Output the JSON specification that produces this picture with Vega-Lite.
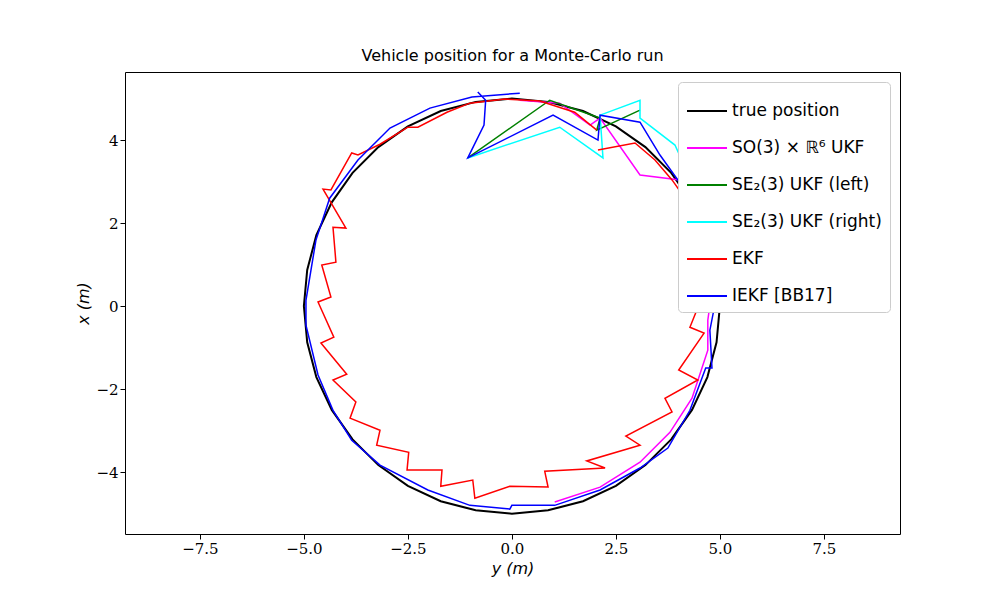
{
  "$schema": "https://vega.github.io/schema/vega-lite/v6.json",
  "width": 775,
  "height": 462,
  "autosize": "none",
  "padding": {"left": 125, "top": 72, "right": 100, "bottom": 66},
  "background": "white",
  "config": {"font": "DejaVu Sans", "view": {"stroke": "black", "strokeWidth": 1}},
  "title": {"text": "Vehicle position for a Monte-Carlo run", "fontSize": 16, "fontWeight": "normal", "offset": 8},
  "datasets": {
    "truth": [
      {"i":0,"h":5,"v":0},{"i":1,"h":4.92,"v":0.87},{"i":2,"h":4.7,"v":1.71},{"i":3,"h":4.33,"v":2.5},
      {"i":4,"h":3.83,"v":3.21},{"i":5,"h":3.21,"v":3.83},{"i":6,"h":2.5,"v":4.33},{"i":7,"h":1.71,"v":4.7},
      {"i":8,"h":0.87,"v":4.92},{"i":9,"h":0,"v":5},{"i":10,"h":-0.87,"v":4.92},{"i":11,"h":-1.71,"v":4.7},
      {"i":12,"h":-2.5,"v":4.33},{"i":13,"h":-3.21,"v":3.83},{"i":14,"h":-3.83,"v":3.21},{"i":15,"h":-4.33,"v":2.5},
      {"i":16,"h":-4.7,"v":1.71},{"i":17,"h":-4.92,"v":0.87},{"i":18,"h":-5,"v":0},{"i":19,"h":-4.92,"v":-0.87},
      {"i":20,"h":-4.7,"v":-1.71},{"i":21,"h":-4.33,"v":-2.5},{"i":22,"h":-3.83,"v":-3.21},{"i":23,"h":-3.21,"v":-3.83},
      {"i":24,"h":-2.5,"v":-4.33},{"i":25,"h":-1.71,"v":-4.7},{"i":26,"h":-0.87,"v":-4.92},{"i":27,"h":0,"v":-5},
      {"i":28,"h":0.87,"v":-4.92},{"i":29,"h":1.71,"v":-4.7},{"i":30,"h":2.5,"v":-4.33},{"i":31,"h":3.21,"v":-3.83},
      {"i":32,"h":3.83,"v":-3.21},{"i":33,"h":4.33,"v":-2.5},{"i":34,"h":4.7,"v":-1.71},{"i":35,"h":4.92,"v":-0.87},
      {"i":36,"h":5,"v":0}
    ],
    "ukf": [
      {"i":0,"h":0.19,"v":4.96},{"i":1,"h":1.15,"v":4.89},{"i":2,"h":1.88,"v":4.36},{"i":3,"h":2.12,"v":4.53},
      {"i":4,"h":3.08,"v":3.16},{"i":5,"h":4.04,"v":3.04},{"i":6,"h":4.52,"v":2.19},{"i":7,"h":4.86,"v":1.11},
      {"i":8,"h":4.81,"v":0.39},{"i":9,"h":4.71,"v":-0.34},{"i":10,"h":4.71,"v":-1.06},{"i":11,"h":4.33,"v":-2.22},
      {"i":12,"h":3.8,"v":-3.04},{"i":13,"h":3.08,"v":-3.76},{"i":14,"h":2.12,"v":-4.36},{"i":15,"h":1.03,"v":-4.72}
    ],
    "left": [
      {"i":0,"h":-1.06,"v":3.57},{"i":1,"h":0.91,"v":4.96},{"i":2,"h":2.12,"v":4.53},{"i":3,"h":2.04,"v":4.24},
      {"i":4,"h":3.08,"v":4.72}
    ],
    "right": [
      {"i":0,"h":-1.06,"v":3.57},{"i":1,"h":1.15,"v":4.31},{"i":2,"h":2.19,"v":3.57},{"i":3,"h":2.12,"v":4.6},
      {"i":4,"h":3.08,"v":4.96},{"i":5,"h":3.08,"v":4.53},{"i":6,"h":3.92,"v":3.88},{"i":7,"h":4.52,"v":2.55},
      {"i":8,"h":4.76,"v":1.35}
    ],
    "ekf": [
      {"i":0,"h":2.04,"v":4.24},{"i":1,"h":1.51,"v":4.67},{"i":2,"h":0.67,"v":4.94},{"i":3,"h":-0.17,"v":4.99},
      {"i":4,"h":-1.01,"v":4.89},{"i":5,"h":-1.56,"v":4.67},{"i":6,"h":-2.26,"v":4.31},{"i":7,"h":-2.5,"v":4.31},
      {"i":8,"h":-3.17,"v":3.9},{"i":9,"h":-3.7,"v":3.64},{"i":10,"h":-3.85,"v":3.69},{"i":11,"h":-4.35,"v":2.8},
      {"i":12,"h":-4.54,"v":2.82},{"i":13,"h":-3.99,"v":1.88},{"i":14,"h":-4.3,"v":1.9},{"i":15,"h":-4.23,"v":1.06},
      {"i":16,"h":-4.57,"v":0.99},{"i":17,"h":-4.35,"v":0.22},{"i":18,"h":-4.66,"v":0.1},{"i":19,"h":-4.28,"v":-0.75},
      {"i":20,"h":-4.59,"v":-0.89},{"i":21,"h":-3.97,"v":-1.64},{"i":22,"h":-4.3,"v":-1.78},{"i":23,"h":-3.75,"v":-2.31},
      {"i":24,"h":-3.89,"v":-2.7},{"i":25,"h":-3.17,"v":-2.99},{"i":26,"h":-3.25,"v":-3.35},{"i":27,"h":-2.48,"v":-3.52},
      {"i":28,"h":-2.52,"v":-3.95},{"i":29,"h":-1.68,"v":-3.95},{"i":30,"h":-1.71,"v":-4.34},{"i":31,"h":-0.94,"v":-4.19},
      {"i":32,"h":-0.89,"v":-4.63},{"i":33,"h":-0.05,"v":-4.34},{"i":34,"h":0.87,"v":-4.36},{"i":35,"h":0.79,"v":-3.98},
      {"i":36,"h":2.24,"v":-3.9},{"i":37,"h":1.8,"v":-3.73},{"i":38,"h":3.08,"v":-3.35},{"i":39,"h":2.74,"v":-3.13},
      {"i":40,"h":3.85,"v":-2.55},{"i":41,"h":3.68,"v":-2.22},{"i":42,"h":4.47,"v":-1.78},{"i":43,"h":4.01,"v":-1.54},
      {"i":44,"h":4.62,"v":-0.65},{"i":45,"h":4.28,"v":-0.51},{"i":46,"h":4.64,"v":0.39},{"i":47,"h":4.62,"v":1.16},
      {"i":48,"h":4.57,"v":1.83},{"i":49,"h":4.28,"v":2.43},{"i":50,"h":3.85,"v":3.04},{"i":51,"h":3.44,"v":3.52},
      {"i":52,"h":2.96,"v":3.93},{"i":53,"h":2.07,"v":3.76}
    ],
    "iekf": [
      {"i":0,"h":0.19,"v":5.13},{"i":1,"h":-0.96,"v":5.04},{"i":2,"h":-1.97,"v":4.77},{"i":3,"h":-2.93,"v":4.29},
      {"i":4,"h":-3.7,"v":3.52},{"i":5,"h":-4.38,"v":2.6},{"i":6,"h":-4.71,"v":1.59},{"i":7,"h":-4.95,"v":0.14},
      {"i":8,"h":-4.95,"v":-0.46},{"i":9,"h":-4.66,"v":-1.66},{"i":10,"h":-4.3,"v":-2.51},{"i":11,"h":-3.85,"v":-3.23},
      {"i":12,"h":-3.17,"v":-3.83},{"i":13,"h":-2.02,"v":-4.43},{"i":14,"h":-1.01,"v":-4.8},{"i":15,"h":-0.05,"v":-4.89},
      {"i":16,"h":0,"v":-4.8},{"i":17,"h":1.03,"v":-4.8},{"i":18,"h":2.12,"v":-4.43},{"i":19,"h":3.08,"v":-3.9},
      {"i":20,"h":3.75,"v":-3.42},{"i":21,"h":4.28,"v":-2.51},{"i":22,"h":4.66,"v":-1.49},{"i":23,"h":4.81,"v":-1.49},
      {"i":24,"h":4.76,"v":-0.58},{"i":25,"h":4.9,"v":0.14},{"i":26,"h":4.9,"v":0.87},{"i":27,"h":4.64,"v":1.83},
      {"i":28,"h":4.16,"v":2.8},{"i":29,"h":3.56,"v":3.64},{"i":30,"h":3.08,"v":4.43},{"i":31,"h":2.12,"v":4.6},
      {"i":32,"h":2.07,"v":4.0},{"i":33,"h":0.99,"v":4.6},{"i":34,"h":-1.06,"v":3.57},{"i":35,"h":-0.67,"v":4.36},
      {"i":36,"h":-0.63,"v":4.96},{"i":37,"h":-0.82,"v":5.16}
    ]
  },
  "encoding": {
    "x": {"field": "h", "type": "quantitative", "scale": {"domain": [-9.3, 9.33], "nice": false, "zero": false},
      "axis": {"values": [-7.5, -5, -2.5, 0, 2.5, 5, 7.5], "format": ".1f", "labelExpr": "replace(datum.label, '-', '−')", "grid": false, "title": "y (m)", "titleFontSize": 16, "titleFontStyle": "italic", "titleFontWeight": "normal", "labelFontSize": 15, "labelFont": "DejaVu Serif", "domain": false, "tickColor": "black", "labelColor": "black"}},
    "y": {"field": "v", "type": "quantitative", "scale": {"domain": [-5.49, 5.64], "nice": false, "zero": false},
      "axis": {"values": [-4, -2, 0, 2, 4], "labelExpr": "replace(datum.label, '-', '−')", "grid": false, "title": "x (m)", "titleFontSize": 16, "titleFontStyle": "italic", "titleFontWeight": "normal", "labelFontSize": 15, "labelFont": "DejaVu Serif", "domain": false, "tickColor": "black", "labelColor": "black"}},
    "order": {"field": "i", "type": "quantitative"},
    "color": {"field": "s", "type": "nominal",
      "scale": {"domain": ["true position", "SO(3) × ℝ⁶ UKF", "SE₂(3) UKF (left)", "SE₂(3) UKF (right)", "EKF", "IEKF [BB17]"],
        "range": ["black", "#ff00ff", "#008000", "#00ffff", "red", "blue"]},
      "legend": {"title": null, "orient": "top-right", "offset": 10, "labelFontSize": 17, "symbolType": "stroke", "symbolStrokeWidth": 2, "symbolSize": 1600, "rowPadding": 8, "padding": 8, "fillColor": "white", "strokeColor": "#cccccc", "cornerRadius": 4, "labelColor": "black"}}
  },
  "layer": [
    {"data": {"name": "truth"}, "transform": [{"calculate": "'true position'", "as": "s"}], "mark": {"type": "line", "strokeWidth": 2}},
    {"data": {"name": "ukf"}, "transform": [{"calculate": "'SO(3) × ℝ⁶ UKF'", "as": "s"}], "mark": {"type": "line", "strokeWidth": 1.5}},
    {"data": {"name": "left"}, "transform": [{"calculate": "'SE₂(3) UKF (left)'", "as": "s"}], "mark": {"type": "line", "strokeWidth": 1.5}},
    {"data": {"name": "right"}, "transform": [{"calculate": "'SE₂(3) UKF (right)'", "as": "s"}], "mark": {"type": "line", "strokeWidth": 1.5}},
    {"data": {"name": "ekf"}, "transform": [{"calculate": "'EKF'", "as": "s"}], "mark": {"type": "line", "strokeWidth": 1.5}},
    {"data": {"name": "iekf"}, "transform": [{"calculate": "'IEKF [BB17]'", "as": "s"}], "mark": {"type": "line", "strokeWidth": 1.5}}
  ]
}
